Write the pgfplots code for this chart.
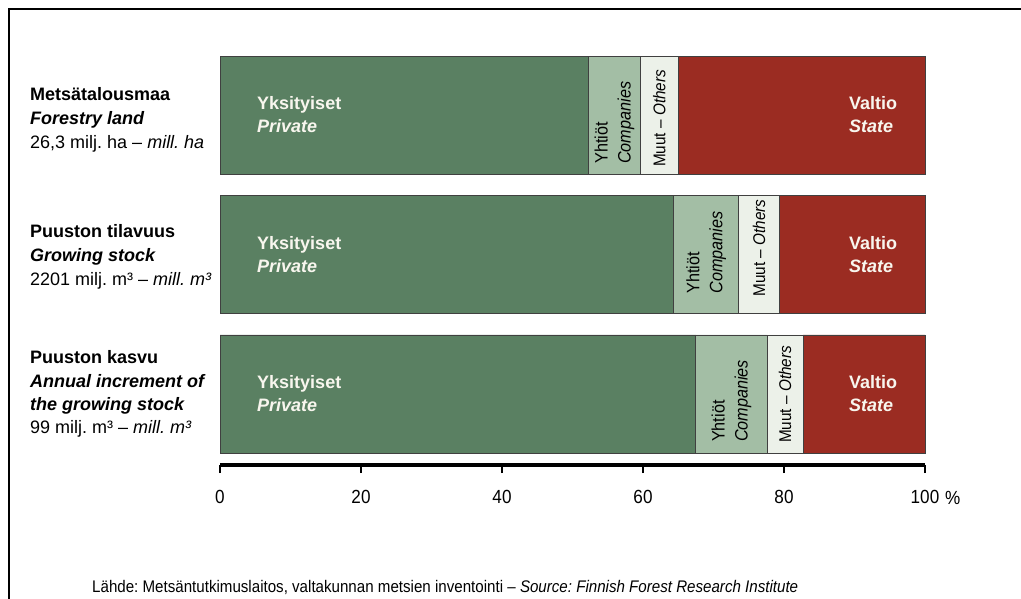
\documentclass[border=0pt]{standalone}
\usepackage{fontspec}
\setmainfont{Liberation Sans}
\newfontfamily\narrow[FakeStretch=0.9]{Liberation Sans}
\usepackage{pgfplots}
\pgfplotsset{compat=1.18}
\frenchspacing

\definecolor{priv}{HTML}{5A8062}
\definecolor{comp}{HTML}{A3BEA5}
\definecolor{oth}{HTML}{ECF1E9}
\definecolor{state}{HTML}{9B2C22}
\definecolor{labelwhite}{HTML}{F8F6EE}

\begin{document}
\begin{tikzpicture}[x=1pt,y=1pt]
\useasboundingbox (0,0) rectangle (1021,-598);
\draw[line width=2.5pt, line join=miter] (9,-600) -- (9,-9) -- (1023,-9);

% Row captions
\begin{scope}[every node/.style={anchor=base west, inner sep=0pt, font=\fontsize{18}{22}\selectfont}]
\node at (30,-100) {\bfseries Metsätalousmaa};
\node at (30,-124) {\bfseries\itshape Forestry land};
\node at (30,-148) {26,3 milj. ha – \textit{mill. ha}};
\node at (30,-237) {\bfseries Puuston tilavuus};
\node at (30,-261) {\bfseries\itshape Growing stock};
\node at (30,-285) {2201 milj. m³ – \textit{mill. m³}};
\node at (30,-363) {\bfseries Puuston kasvu};
\node at (30,-387) {\bfseries\itshape Annual increment of};
\node at (30,-410) {\bfseries\itshape the growing stock};
\node at (30,-433) {99 milj. m³ – \textit{mill. m³}};
\end{scope}

\node[anchor=base west, inner sep=0pt, font=\narrow\fontsize{16.8}{19}\selectfont] at (92,-592)
  {Lähde: Metsäntutkimuslaitos, valtakunnan metsien inventointi – \textit{Source: Finnish Forest Research Institute}};

\begin{axis}[
  at={(220pt,-465pt)}, anchor=south west,
  scale only axis, width=705pt, height=420pt,
  xmin=0, xmax=100, ymin=-0.51, ymax=2.506,
  xbar stacked, bar width=118pt,
  axis x line*=bottom, axis y line=none,
  axis line style={line width=3.5pt},
  x axis line style={line width=3.5pt},
  xtick={0,20,40,60,80,100},
  xticklabels={0,20,40,60,80,100},
  tick align=outside, major tick length=8pt,
  tick style={line width=1.3pt, black},
  xticklabel style={font=\narrow\fontsize{19}{22}\selectfont, yshift=-14pt},
  clip=false,
]
% shares in %, row 2 = forestry land, 1 = growing stock, 0 = increment
\addplot[fill=priv, draw=black!75, line width=0.8pt]  coordinates {(52.3,2) (64.3,1) (67.5,0)};
\addplot[fill=comp, draw=black!75, line width=0.8pt]  coordinates {(7.3,2) (9.3,1) (10.1,0)};
\addplot[fill=oth, draw=black!75, line width=0.8pt]   coordinates {(5.4,2) (5.7,1) (5.1,0)};
\addplot[fill=state, draw=black!75, line width=0.8pt] coordinates {(35.0,2) (20.7,1) (17.3,0)};

% anchor points for the segment labels
\coordinate (p2) at (axis cs:5.25,2);
\coordinate (p1) at (axis cs:5.25,1);
\coordinate (p0) at (axis cs:5.25,0);
\coordinate (s2) at (axis cs:89.2,2);
\coordinate (s1) at (axis cs:89.2,1);
\coordinate (s0) at (axis cs:89.2,0);
\coordinate (c2) at (axis cs:55.95,1.652);
\coordinate (o2) at (axis cs:62.3,1.63);
\coordinate (c1) at (axis cs:68.95,0.72);
\coordinate (o1) at (axis cs:76.45,0.70);
\coordinate (c0) at (axis cs:72.55,-0.345);
\coordinate (o0) at (axis cs:80.15,-0.352);
\end{axis}

\node[anchor=base west, inner sep=0pt, font=\narrow\fontsize{19}{22}\selectfont] at (945,-504) {\%};

% owner names inside the bars
\begin{scope}[every node/.style={anchor=base west, inner sep=0pt, text=labelwhite, font=\fontsize{18}{20}\selectfont\bfseries}]
\foreach \r in {0,1,2} {
  \node at ([yshift=5.5pt]p\r) {Yksityiset};
  \node at ([yshift=-17.5pt]p\r) {\itshape Private};
  \node at ([yshift=5.5pt]s\r) {Valtio};
  \node at ([yshift=-17.5pt]s\r) {\itshape State};
}
\end{scope}

% narrow segments, rotated
\begin{scope}[every node/.style={rotate=90, anchor=west, align=left, inner sep=0pt, font=\narrow\fontsize{18}{23}\selectfont}]
\foreach \r in {0,1,2} {
  \node at (c\r) {Yhtiöt\\\textit{Companies}};
  \node[font=\narrow\fontsize{17}{20}\selectfont] at (o\r) {Muut – \textit{Others}};
}
\end{scope}
\end{tikzpicture}
\end{document}
